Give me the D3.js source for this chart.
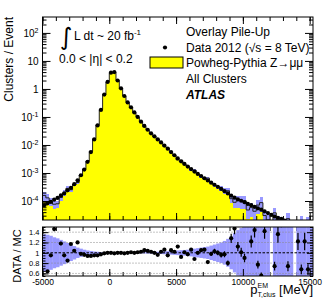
<!DOCTYPE html>
<html>
<head>
<meta charset="utf-8">
<script src="https://d3js.org/d3.v7.min.js"></script>
<style>
body { margin: 0; background: #fff; }
svg { display: block; font-family: "Liberation Sans", Arial, Helvetica, sans-serif; }
.axis path { display: none; }
.axis line { stroke: #000; stroke-width: 1; }
</style>
</head>
<body>
<svg id="c" width="329" height="305"></svg>
<script>
// binning: 250 MeV bins starting at -5000
var binStart = -5000, binWidth = 250;

// data 2012, clusters / event per bin
var dataVals = [
  7.1e-5, 8.3e-5, 9.3e-5, 1.12e-4, 1.29e-4, 1.58e-4, 1.86e-4, 2.4e-4, 2.95e-4, 4.0e-4,
  5.5e-4, 8.3e-4, 1.32e-3, 2.5e-3, 5.6e-3, 1.58e-2, 5.0e-2, 0.178, 0.63, 1.78,
  3.8, 4.0, 2.0, 1.05, 0.56, 0.33, 0.22, 0.145, 0.100, 0.068,
  0.048, 0.035, 0.026, 0.0204, 0.0158, 0.0123, 0.0095, 0.0074, 0.0056, 0.0043,
  0.0033, 0.0026, 0.0021, 0.0017, 0.00138, 0.00112, 0.00093, 0.00078, 0.00065, 0.00054,
  0.00045, 0.00038, 0.00032, 0.00027, 2.24e-4, 1.86e-4, 1.55e-4, 1.32e-4, 1.15e-4, 1.02e-4,
  9.1e-5, 7.9e-5, 7.1e-5, 6.2e-5, 5.5e-5, 4.9e-5, 4.3e-5, 3.7e-5, 3.2e-5, 2.8e-5,
  2.5e-5, 2.3e-5, 2.0e-5, 1.74e-5, 1.6e-5, 1.5e-5, 1.4e-5, 1.3e-5, 1.2e-5, 1.1e-5,
  1.0e-5
];

// DATA / MC per bin (null = no MC in bin)
var ratioVals = [
  0.45, 0.64, 0.95, 1.46, 1.62, 1.18, 0.95, 0.85, 1.17, 1.04,
  1.20, 0.98, 0.96, 0.94, 0.94, 0.95, 0.95, 0.97, 0.99, 1.00,
  1.00, 0.99, 1.00, 1.00, 0.99, 1.00, 1.01, 1.00, 1.01, 1.02,
  1.05, 1.04, 1.02, 1.00, 0.96, 1.02, 1.06, 0.95, 1.05, 1.02,
  1.12, 0.92, 1.01, 0.97, 1.06, 0.88, 1.00, 1.05, 1.06, 0.82,
  0.98, 1.03, 1.00, 0.96, 0.97, 0.80, 1.28, 1.47, 1.12, 1.01,
  0.90, 1.65, 1.22, 1.44, 0.77, 0.56, 1.42, 1.75, null, 0.74,
  1.36, 1.70, 1.90, 0.74, 1.80, null, 1.22, 0.68, 1.22, 0.68,
  1.85
];

// relative MC stat. uncertainty per bin
var mcRelErr = [
  0.36, 0.35, 0.33, 0.30, 0.28, 0.25, 0.22, 0.19, 0.16, 0.13,
  0.10, 0.08, 0.06, 0.045, 0.035, 0.025, 0.02, 0.01, 0.01, 0.01,
  0.01, 0.01, 0.01, 0.01, 0.01, 0.01, 0.01, 0.01, 0.01, 0.01,
  0.012, 0.014, 0.016, 0.018, 0.02, 0.024, 0.028, 0.032, 0.036, 0.04,
  0.045, 0.05, 0.055, 0.06, 0.07, 0.08, 0.09, 0.10, 0.11, 0.12,
  0.14, 0.16, 0.18, 0.20, 0.23, 0.27, 0.32, 0.38, 0.44, 0.48,
  0.50, 0.52, 0.52, 0.53, 0.53, 0.54, 0.54, 0.55, 0, 0.55,
  0.56, 0.56, 0.57, 0.57, 0.58, 0, 0.58, 0.59, 0.59, 0.60,
  0.60
];

// relative data stat. uncertainty per bin
var dataRelErr = [
  0.03, 0.03, 0.03, 0.03, 0.03, 0.03, 0.025, 0.025, 0.02, 0.02,
  0.02, 0.015, 0.01, 0.01, 0.005, 0.005, 0.005, 0.005, 0.005, 0.005,
  0.005, 0.005, 0.005, 0.005, 0.005, 0.005, 0.005, 0.005, 0.005, 0.005,
  0.005, 0.005, 0.005, 0.005, 0.005, 0.008, 0.008, 0.01, 0.01, 0.01,
  0.012, 0.014, 0.016, 0.018, 0.02, 0.022, 0.025, 0.028, 0.03, 0.035,
  0.04, 0.045, 0.05, 0.055, 0.06, 0.065, 0.07, 0.075, 0.08, 0.085,
  0.09, 0.09, 0.095, 0.1, 0.1, 0.1, 0.105, 0.11, 0.11, 0.115,
  0.12, 0.12, 0.125, 0.13, 0.13, 0.135, 0.135, 0.14, 0.14, 0.145,
  0.15
];

var yTicksMain = [1e-4, 1e-3, 1e-2, 1e-1, 1, 10, 100];
var yTicksRatio = [0.6, 0.8, 1, 1.2, 1.4];
var xTicksMajor = [-5000, 0, 5000, 10000, 15000];

var bins = dataVals.map(function(d, i) {
  var r = ratioVals[i];
  return {
    lo: binStart + i * binWidth,
    hi: binStart + (i + 1) * binWidth,
    c: binStart + (i + 0.5) * binWidth,
    data: d,
    ratio: r,
    mc: r == null ? null : d / r,
    err: mcRelErr[i],
    derr: dataRelErr[i]
  };
});

var left = 42.5, right = 313;
var top1 = 17, bot1 = 220, top2 = 227, bot2 = 276;
var yellow = "#ffff00", bandCol = "#9999ff";

var svg = d3.select("#c");

var x = d3.scaleLinear().domain([-5000, 15250]).range([left, right]);
var y = d3.scaleLog().domain([2.1e-5, 370]).range([bot1, top1]);
var yr = d3.scaleLinear().domain([0.55, 1.5]).range([bot2, top2]);

var defs = svg.append("defs");
defs.append("clipPath").attr("id", "clipTop").append("rect")
  .attr("x", left).attr("y", top1).attr("width", right - left).attr("height", bot1 - top1);
defs.append("clipPath").attr("id", "clipBot").append("rect")
  .attr("x", left).attr("y", top2).attr("width", right - left).attr("height", bot2 - top2);

// ---------- upper pane ----------
var gTop = svg.append("g").attr("clip-path", "url(#clipTop)");
var floorV = 1e-6;

// MC histogram as one stepped area
var stepPts = [];
bins.forEach(function(b) {
  var v = b.mc ? b.mc : floorV;
  stepPts.push([x(b.lo), y(v)]);
  stepPts.push([x(b.hi), y(v)]);
});
gTop.append("path")
  .attr("d", d3.area().y0(bot1 + 5)(stepPts))
  .attr("fill", yellow);

function bandTop(b) { return y(b.mc * (1 + b.err)); }
function bandBot(b) { return y(Math.max(floorV, b.mc * (1 - b.err))); }
gTop.selectAll("rect.band")
  .data(bins.filter(function(b) { return b.mc && bandBot(b) - bandTop(b) > 1.5; }))
  .enter().append("rect").attr("class", "band")
  .attr("shape-rendering", "crispEdges")
  .attr("x", function(b) { return x(b.lo); })
  .attr("width", function(b) { return x(b.hi) - x(b.lo); })
  .attr("y", bandTop)
  .attr("height", function(b) { return bandBot(b) - bandTop(b); })
  .attr("fill", bandCol);

gTop.append("path")
  .attr("d", d3.line()(stepPts))
  .attr("fill", "none").attr("stroke", "#222").attr("stroke-width", 1);

gTop.selectAll("circle.data").data(bins)
  .enter().append("circle").attr("class", "data")
  .attr("cx", function(b) { return x(b.c); })
  .attr("cy", function(b) { return y(b.data); })
  .attr("r", 2.1).attr("fill", "#000");

// axes upper
var minorLog = [];
[-5, -4, -3, -2, -1, 0, 1, 2].forEach(function(e) {
  for (var k = 2; k <= 9; k++) {
    var v = k * Math.pow(10, e);
    if (v > 2.1e-5 && v < 370) minorLog.push(v);
  }
});
var xMinor = d3.range(-5000, 15251, 1000);

svg.append("g").attr("class", "axis").attr("transform", "translate(" + left + ",0)")
  .call(d3.axisLeft(y).tickValues(minorLog).tickSize(-4).tickFormat(""));
var yAx = svg.append("g").attr("class", "axis").attr("transform", "translate(" + left + ",0)")
  .call(d3.axisLeft(y).tickValues(yTicksMain).tickSize(-8).tickPadding(4)
    .tickFormat(function(d) { return d; }));
yAx.selectAll(".tick text").each(function(d) {
  var t = d3.select(this).text(null).attr("font-size", 10).attr("fill", "#000");
  var e = Math.round(Math.log10(d));
  if (e === 0) { t.text("1"); return; }
  if (e === 1) { t.text("10"); return; }
  t.append("tspan").text("10");
  t.append("tspan").attr("dy", -4).attr("font-size", 7).text(e);
});
svg.append("g").attr("class", "axis").attr("transform", "translate(" + right + ",0)")
  .call(d3.axisRight(y).tickValues(minorLog).tickSize(-4).tickFormat(""));
svg.append("g").attr("class", "axis").attr("transform", "translate(" + right + ",0)")
  .call(d3.axisRight(y).tickValues(yTicksMain).tickSize(-8).tickFormat(""));
[bot1, bot2].forEach(function(yy) {
  svg.append("g").attr("class", "axis").attr("transform", "translate(0," + yy + ")")
    .call(d3.axisBottom(x).tickValues(xMinor).tickSize(-4).tickFormat(""));
});
[top1, top2].forEach(function(yy) {
  svg.append("g").attr("class", "axis").attr("transform", "translate(0," + yy + ")")
    .call(d3.axisTop(x).tickValues(xMinor).tickSize(-4).tickFormat(""));
  svg.append("g").attr("class", "axis").attr("transform", "translate(0," + yy + ")")
    .call(d3.axisTop(x).tickValues(xTicksMajor).tickSize(-7).tickFormat(""));
});
svg.append("g").attr("class", "axis").attr("transform", "translate(0," + bot1 + ")")
  .call(d3.axisBottom(x).tickValues(xTicksMajor).tickSize(-7).tickFormat(""));

svg.append("rect").attr("x", left).attr("y", top1)
  .attr("width", right - left).attr("height", bot1 - top1)
  .attr("fill", "none").attr("stroke", "#000");

// ---------- lower pane ----------
var gBot = svg.append("g").attr("clip-path", "url(#clipBot)");
gBot.selectAll("rect.rband").data(bins.filter(function(b) { return b.mc; }))
  .enter().append("rect").attr("class", "rband")
  .attr("x", function(b) { return x(b.lo); })
  .attr("width", function(b) { return x(b.hi) - x(b.lo) + 0.3; })
  .attr("y", function(b) { return yr(1 + b.err); })
  .attr("height", function(b) { return yr(1 - b.err) - yr(1 + b.err); })
  .attr("fill", bandCol);

yTicksRatio.forEach(function(v) {
  gBot.append("line")
    .attr("x1", left).attr("x2", right).attr("y1", yr(v)).attr("y2", yr(v))
    .attr("stroke", v === 1 ? "#000" : "#888")
    .attr("stroke-width", 1)
    .attr("stroke-dasharray", v === 1 ? "2.5,1.5" : "1,2");
});

var pts = bins.filter(function(b) { return b.ratio != null; });
gBot.selectAll("line.err").data(pts)
  .enter().append("line").attr("class", "err")
  .attr("x1", function(b) { return x(b.c); }).attr("x2", function(b) { return x(b.c); })
  .attr("y1", function(b) { return yr(b.ratio * (1 + b.derr)); })
  .attr("y2", function(b) { return yr(b.ratio * (1 - b.derr)); })
  .attr("stroke", "#000").attr("stroke-width", 1.2);
gBot.selectAll("circle.r").data(pts)
  .enter().append("circle").attr("class", "r")
  .attr("cx", function(b) { return x(b.c); })
  .attr("cy", function(b) { return yr(b.ratio); })
  .attr("r", 2.1).attr("fill", "#000");

var yrMinor = d3.range(0.55, 1.501, 0.05);
svg.append("g").attr("class", "axis").attr("transform", "translate(" + left + ",0)")
  .call(d3.axisLeft(yr).tickValues(yrMinor).tickSize(-3).tickFormat(""));
svg.append("g").attr("class", "axis").attr("transform", "translate(" + left + ",0)")
  .call(d3.axisLeft(yr).tickValues(yTicksRatio).tickSize(-6).tickPadding(3)
    .tickFormat(function(d) { return d; }))
  .selectAll("text").attr("font-size", 7.5).attr("fill", "#000");
svg.append("g").attr("class", "axis").attr("transform", "translate(" + right + ",0)")
  .call(d3.axisRight(yr).tickValues(yrMinor).tickSize(-3).tickFormat(""));
svg.append("g").attr("class", "axis").attr("transform", "translate(" + right + ",0)")
  .call(d3.axisRight(yr).tickValues(yTicksRatio).tickSize(-6).tickFormat(""));
svg.append("g").attr("class", "axis").attr("transform", "translate(0," + bot2 + ")")
  .call(d3.axisBottom(x).tickValues(xTicksMajor).tickSize(-7).tickPadding(3)
    .tickFormat(function(d) { return d; }))
  .selectAll("text").attr("font-size", 8.5).attr("fill", "#000");

svg.append("rect").attr("x", left).attr("y", top2)
  .attr("width", right - left).attr("height", bot2 - top2)
  .attr("fill", "none").attr("stroke", "#000");

// ---------- titles ----------
svg.append("text").attr("transform", "translate(13,17) rotate(-90)")
  .attr("text-anchor", "end").attr("font-size", 12).text("Clusters / Event");
svg.append("text").attr("transform", "translate(21,256) rotate(-90)")
  .attr("text-anchor", "middle").attr("font-size", 11).text("DATA / MC");

var xt = svg.append("text").attr("x", 313).attr("y", 294)
  .attr("text-anchor", "end").attr("font-size", 13);
xt.append("tspan").text("p");
xt.append("tspan").attr("font-size", 7).attr("dy", -6).text("EM");
xt.append("tspan").attr("font-size", 7).attr("dx", -10.5).attr("dy", 9).text("T,clus");
xt.append("tspan").attr("dy", -3).text(" [MeV]");

// ---------- labels / legend ----------
svg.append("text").attr("x", 60).attr("y", 45).attr("font-size", 24)
  .attr("font-family", "DejaVu Sans").text("\u222B");
var lum = svg.append("text").attr("x", 74).attr("y", 40).attr("font-size", 12);
lum.append("tspan").text("L dt ~ 20 fb");
lum.append("tspan").attr("font-size", 8).attr("dy", -5).text("-1");
svg.append("text").attr("x", 59).attr("y", 63).attr("font-size", 12)
  .text("0.0 < |\u03B7| < 0.2");

var legX = 186;
svg.append("text").attr("x", legX).attr("y", 36).attr("font-size", 12).text("Overlay Pile-Up");
svg.append("circle").attr("cx", 165).attr("cy", 47.5).attr("r", 2.1).attr("fill", "#000");
svg.append("text").attr("x", legX).attr("y", 51.5).attr("font-size", 12)
  .text("Data 2012 (\u221As = 8 TeV)");
svg.append("rect").attr("x", 150).attr("y", 57).attr("width", 33).attr("height", 11)
  .attr("fill", yellow).attr("stroke", "#000");
svg.append("text").attr("x", legX).attr("y", 67).attr("font-size", 12)
  .text("Powheg-Pythia Z\u2192\u03BC\u03BC");
svg.append("text").attr("x", legX).attr("y", 82.5).attr("font-size", 12).text("All Clusters");
svg.append("text").attr("x", legX).attr("y", 99).attr("font-size", 12)
  .attr("font-weight", "bold").attr("font-style", "italic").text("ATLAS");
</script>
</body>
</html>
